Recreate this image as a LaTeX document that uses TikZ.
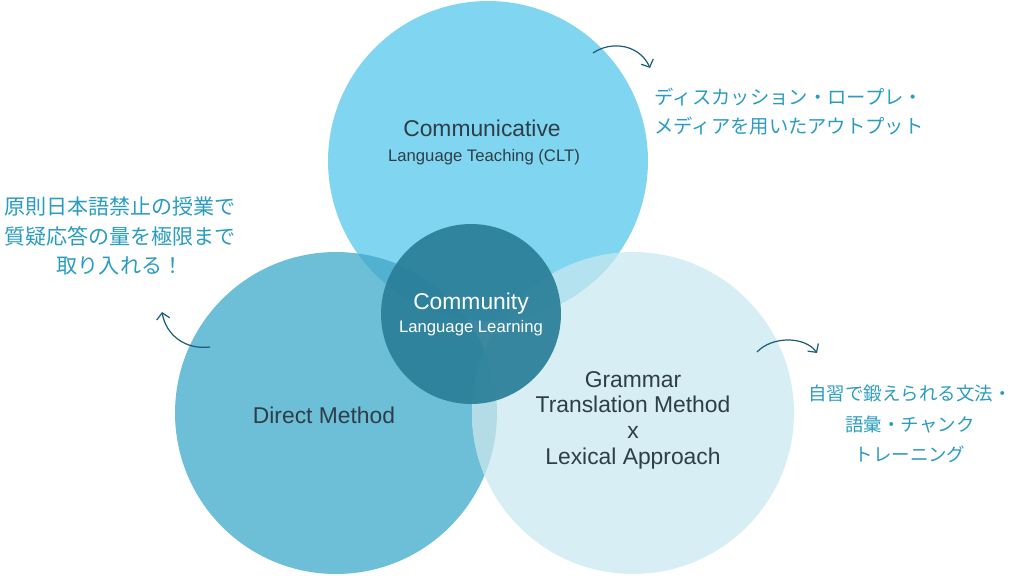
\documentclass[tikz,border=0pt]{standalone}
\usepackage{fontspec}
\setmainfont{Liberation Sans}
\newfontfamily\jpfont{Noto Sans CJK JP}
\usepackage{tikz}
\usetikzlibrary{positioning,arrows.meta}
\usepackage{xcolor}
\definecolor{cltblue}{HTML}{80D6F0}
\definecolor{dmblue}{HTML}{6CBFD6}
\definecolor{gtmblue}{HTML}{D6EEF4}
\definecolor{cllblue}{HTML}{2A7E98}
\definecolor{topleft}{HTML}{50B1D1}
\definecolor{topright}{HTML}{B5E2EF}
\definecolor{leftright}{HTML}{B3DCE7}
\definecolor{notecol}{HTML}{2A9CC0}
\definecolor{arrowcol}{HTML}{1D5E75}
\definecolor{labelcol}{HTML}{2E3E48}

\begin{document}
\begin{tikzpicture}[x=0.02cm, y=-0.02cm,
    big/.style={font=\fontsize{13}{14.6}\selectfont, text=labelcol, align=center},
    small/.style={font=\fontsize{9.5}{11}\selectfont, text=labelcol},
    note/.style={font=\jpfont\fontsize{11}{16.5}\selectfont, text=notecol, align=center},
    arrow/.style={-{Straight Barb[length=3.5pt,width=7.5pt]}, arrowcol, line width=0.7pt}
  ]
  \useasboundingbox (0,0) rectangle (1017,575);

  % circles
  \coordinate (ctop) at (488,161);
  \coordinate (cleft) at (336,413);
  \coordinate (cright) at (633,413);
  \coordinate (cmid) at (471,314);

  \fill[dmblue] (cleft) circle (3.22cm);
  \fill[gtmblue] (cright) circle (3.22cm);
  \fill[cltblue] (ctop) circle (3.2cm);
  \begin{scope}
    \clip (ctop) circle (3.2cm);
    \fill[topleft] (cleft) circle (3.22cm);
    \fill[topright] (cright) circle (3.22cm);
  \end{scope}
  \begin{scope}
    \clip (cleft) circle (3.22cm);
    \fill[leftright] (cright) circle (3.22cm);
  \end{scope}
  \fill[cllblue, fill opacity=0.92] (cmid) circle (1.8cm);

  % labels
  \node[big] (clt) at (482,128) {Communicative};
  \node[small] (cltsub) at (484,157) {Language Teaching (CLT)};
  \node[big, text=white] (cll) at (471,304) {Community};
  \node[small, text=white] (cllsub) at (471,328) {Language Learning};
  \node[big] (direct) at (324,415) {Direct Method};
  \node[big] (gtm) at (633,420) {Grammar\\Translation Method\\x\\Lexical Approach};

  % notes
  \node[note] (cltnote) at (789,112) {ディスカッション・ロープレ・\\メディアを用いたアウトプット};
  \node[note, font=\jpfont\fontsize{12}{17}\selectfont] (dmnote) at (120,236)
    {原則日本語禁止の授業で\\質疑応答の量を極限まで\\取り入れる！};
  \node[note, font=\jpfont\fontsize{10.5}{17.5}\selectfont] (gtmnote) at (910,424)
    {自習で鍛えられる文法・\\語彙・チャンク\\トレーニング};

  % arrows
  \coordinate (cltfrom) at (593,53);
  \coordinate (cltto) at (650,68);
  \coordinate (dmfrom) at (210,347);
  \coordinate (dmto) at (162,312);
  \coordinate (gtmfrom) at (757,352);
  \coordinate (gtmto) at (817,353);
  \draw[arrow] (cltfrom) .. controls (612,40) and (640,45) .. (cltto);
  \draw[arrow] (dmfrom) .. controls (185,350) and (166,335) .. (dmto);
  \draw[arrow] (gtmfrom) .. controls (772,336) and (805,336) .. (gtmto);

\end{tikzpicture}
\end{document}
